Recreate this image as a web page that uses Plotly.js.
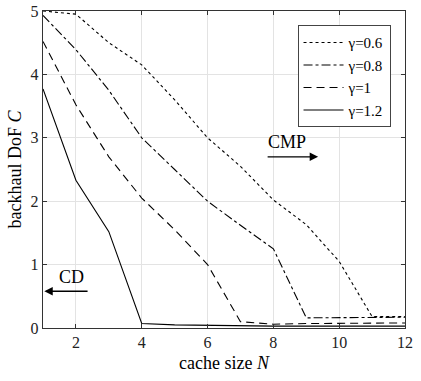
<!DOCTYPE html>
<html><head><meta charset="utf-8">
<script src="https://cdn.plot.ly/plotly-3.0.1.min.js"></script>
<style>body{margin:0;padding:0;background:#fff}</style>
</head><body><div id="chart" style="width:421px;height:381px"></div>
<script>
const N = [1,2,3,4,5,6,7,8,9,10,11,12];
const names = ['γ=0.6','γ=0.8','γ=1','γ=1.2'];
const g06 = [5.0,4.95,4.5,4.15,3.6,3.0,2.55,2.02,1.63,1.05,0.18,0.18];
const g08 = [4.93,4.39,3.75,3.0,2.5,2.0,1.62,1.25,0.16,0.16,0.16,0.17];
const g10 = [4.52,3.52,2.7,2.05,1.55,1.0,0.1,0.06,0.07,0.07,0.08,0.08];
const g12 = [3.77,2.33,1.52,0.07,0.05,0.04,0.04,0.03,0.03,0.03,0.03,0.03];
const xTicks = [2,4,6,8,10,12];
const yTicks = [0,1,2,3,4,5];
const series = [g06,g08,g10,g12];
const dashes = ['dot','dashdot','8px,5px','solid'];
const font = "Liberation Serif";
const traces = series.map((s,i)=>({x:N,y:s,name:names[i],mode:'lines',
  line:{color:'#000',width:1.1,dash:dashes[i]}}));
const axBase = {showline:true,mirror:'ticks',linecolor:'#333',linewidth:1.2,ticks:'inside',ticklen:4,tickcolor:'#333',
  showgrid:true,gridcolor:'#e3e3e3',zeroline:false,tickfont:{family:font,size:16,color:'#222'}};
const layout = {
  width:421,height:381,margin:{l:43,r:16,t:11,b:53},
  paper_bgcolor:'#fff',plot_bgcolor:'#fff',font:{family:font,color:'#000'},
  xaxis:Object.assign({},axBase,{range:[1,12],tickvals:xTicks,
    title:{text:'cache size <i>N</i>',font:{family:font,size:18},standoff:6}}),
  yaxis:Object.assign({},axBase,{range:[0,5],tickvals:yTicks,
    title:{text:'backhaul DoF <i>C</i>',font:{family:font,size:18},standoff:4}}),
  showlegend:true,
  legend:{x:0.96,y:0.955,xanchor:'right',yanchor:'top',bgcolor:'#fff',bordercolor:'#444',borderwidth:1,
    font:{family:font,size:15},tracegroupgap:0,itemwidth:40},
  annotations:[
    {x:8.42,y:2.94,xref:'x',yref:'y',text:'CMP',showarrow:false,font:{family:font,size:18}},
    {x:9.36,y:2.7,ax:7.78,ay:2.7,xref:'x',yref:'y',axref:'x',ayref:'y',text:'',showarrow:true,arrowhead:2,arrowsize:1.3,arrowwidth:1.3,arrowcolor:'#000'},
    {x:1.88,y:0.8,xref:'x',yref:'y',text:'CD',showarrow:false,font:{family:font,size:18}},
    {x:1.04,y:0.58,ax:2.4,ay:0.58,xref:'x',yref:'y',axref:'x',ayref:'y',text:'',showarrow:true,arrowhead:2,arrowsize:1.3,arrowwidth:1.3,arrowcolor:'#000'}
  ]
};
Plotly.newPlot('chart',traces,layout,{displayModeBar:false,staticPlot:true});
</script></body></html>
